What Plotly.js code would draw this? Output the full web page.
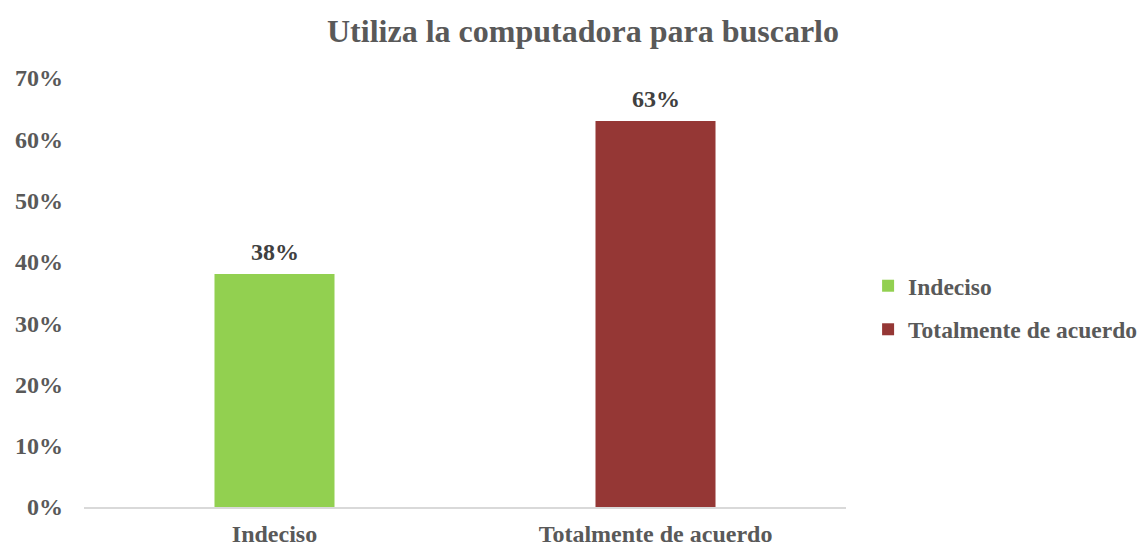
<!DOCTYPE html>
<html>
<head>
<meta charset="utf-8">
<script src="https://cdn.plot.ly/plotly-3.0.1.min.js"></script>
<style>html,body{margin:0;padding:0;background:#fff;}#chart{width:1143px;height:547px;}</style>
</head>
<body>
<div id="chart"></div>
<script>
const categories = ['Indeciso', 'Totalmente de acuerdo'];
const values = [0.38, 0.63];
const colors = ['#92D050', '#953735'];
const yTickVals = [0, 0.1, 0.2, 0.3, 0.4, 0.5, 0.6, 0.7];

const FONT = 'Liberation Serif, Times New Roman, serif';

const traces = categories.map((c, i) => ({
  type: 'bar',
  name: c,
  legendgroup: 'g' + i,
  x: [c],
  y: [values[i]],
  width: 0.315,
  marker: {color: colors[i]},
  hoverinfo: 'skip'
}));

const annotations = categories.map((c, i) => ({
  x: c, y: values[i], xref: 'x', yref: 'y',
  text: Math.round(values[i] * 100) + '%',
  showarrow: false, yanchor: 'bottom', yshift: 7,
  font: {family: FONT, size: 24, color: '#404040', weight: 'bold'}
}));

const layout = {
  width: 1143, height: 547,
  paper_bgcolor: '#ffffff', plot_bgcolor: '#ffffff',
  margin: {l: 84, r: 297, t: 78, b: 40, autoexpand: false},
  barmode: 'overlay',
  showlegend: true,
  title: {
    text: 'Utiliza la computadora para buscarlo',
    x: 583 / 1143, xanchor: 'center', xref: 'container',
    y: 1 - 31 / 547, yanchor: 'middle', yref: 'container',
    font: {family: FONT, size: 32, color: '#595959', weight: 'bold'}
  },
  xaxis: {
    categoryorder: 'array', categoryarray: categories,
    showline: true, linecolor: '#d9d9d9', linewidth: 1.5,
    showgrid: false, zeroline: false, ticks: '',
    tickfont: {family: FONT, size: 24, color: '#595959', weight: 'bold'},
    ticklabelstandoff: 5
  },
  yaxis: {
    range: [0, 0.7], tickvals: yTickVals, tickformat: '.0%',
    showgrid: false, zeroline: false, showline: false, ticks: '',
    tickfont: {family: FONT, size: 24, color: '#595959', weight: 'bold'},
    ticklabelstandoff: 20
  },
  legend: {
    x: 1.029, xanchor: 'left', y: 0.464, yanchor: 'middle',
    font: {family: FONT, size: 23.5, color: '#595959', weight: 'bold'},
    itemwidth: 30, tracegroupgap: 10, bgcolor: 'rgba(0,0,0,0)'
  },
  annotations: annotations
};

Plotly.newPlot('chart', traces, layout, {displayModeBar: false, staticPlot: true});
</script>
</body>
</html>
